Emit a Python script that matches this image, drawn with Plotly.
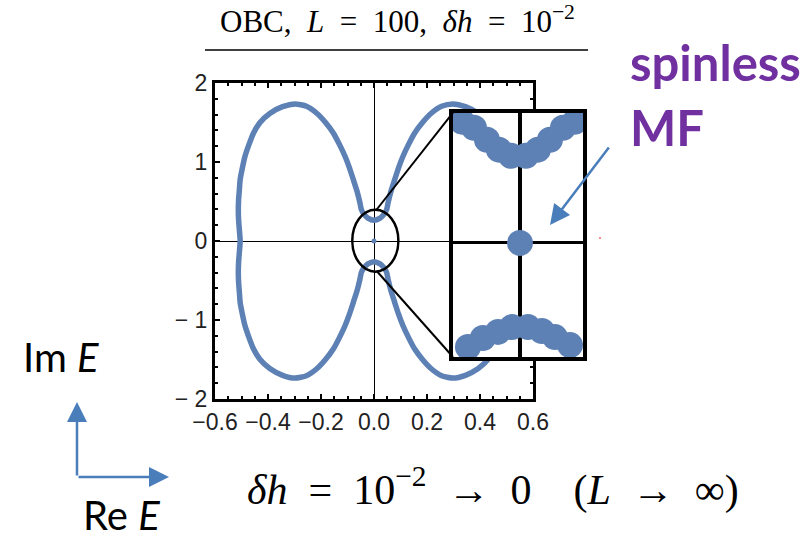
import numpy as np
import plotly.graph_objects as go

W, H = 811, 533

# Upper-left quarter of the OBC spectrum (outer edge -> waist near Re E = 0)
quarter_re = [-0.505, -0.508, -0.511, -0.512, -0.511, -0.508, -0.505, -0.497, -0.487, -0.472,
              -0.455, -0.430, -0.392, -0.345, -0.298, -0.255, -0.216, -0.183, -0.153, -0.130,
              -0.109, -0.092, -0.078, -0.064, -0.053, -0.048, -0.038, -0.023, 0.000]
quarter_im = [0.000, 0.14, 0.27, 0.40, 0.52, 0.65, 0.78, 0.92, 1.07, 1.22,
              1.365, 1.50, 1.617, 1.700, 1.735, 1.705, 1.617, 1.50, 1.365, 1.22,
              1.07, 0.92, 0.776, 0.63, 0.482, 0.40, 0.34, 0.29, 0.262]

# Isolated zero mode (spinless Majorana fermion)
mf_re = [0.0]
mf_im = [0.0]

# Eigenvalues shown in the magnified inset
inset_top_re = [-0.0446, -0.0354, -0.0254, -0.0162, -0.0069, 0.0046, 0.0138, 0.0231, 0.0331, 0.0423]
inset_top_im = [0.377, 0.358, 0.321, 0.290, 0.271, 0.271, 0.290, 0.321, 0.358, 0.377]
inset_bot_re = [-0.0400, -0.0285, -0.0169, -0.0062, 0.0062, 0.0169, 0.0269, 0.0385]
inset_bot_im = [-0.324, -0.296, -0.277, -0.262, -0.262, -0.274, -0.293, -0.318]

x_ticks = [-0.6, -0.4, -0.2, 0.0, 0.2, 0.4, 0.6]
y_ticks = [-2, -1, 0, 1, 2]
y_ticktext = ["\u2212 2", "\u2212 1", "0", "1", "2"]

BLUE = "#5E81B5"
ARROW = "#4A7EBB"
PURPLE = "#7030A0"

# Close the curve using the reflection symmetry E -> -E*, E -> E*
q_re = np.array(quarter_re)
q_im = np.array(quarter_im)
curve_re = np.concatenate([q_re, -q_re[::-1][1:], -q_re[1:], q_re[::-1][1:]])
curve_im = np.concatenate([q_im, q_im[::-1][1:], -q_im[1:], -q_im[::-1][1:]])

# layout geometry (pixels)
ML, MR, MT, MB = 215, 228, 83, 134
PW, PH = W - ML - MR, H - MT - MB


def px(xp):
    return (xp - ML) / PW


def py(yp):
    return (H - MB - yp) / PH


fig = go.Figure()

fig.add_trace(go.Scatter(x=curve_re, y=curve_im, mode="lines",
                         line=dict(color=BLUE, width=5.5, shape="spline", smoothing=0.6),
                         hoverinfo="skip", xaxis="x", yaxis="y"))
fig.add_trace(go.Scatter(x=mf_re, y=mf_im, mode="markers",
                         marker=dict(color=BLUE, size=5), xaxis="x", yaxis="y"))

# inset
for xs, ys in [(inset_top_re, inset_top_im), (inset_bot_re, inset_bot_im), (mf_re, mf_im)]:
    fig.add_trace(go.Scatter(x=xs, y=ys, mode="markers",
                             marker=dict(color=BLUE, size=26, line=dict(width=0)),
                             xaxis="x2", yaxis="y2"))

tickfont = dict(family="Liberation Sans, Arial", size=23, color="#222")

fig.update_layout(
    width=W, height=H,
    margin=dict(l=ML, r=MR, t=MT, b=MB),
    paper_bgcolor="white", plot_bgcolor="white",
    showlegend=False,
    xaxis=dict(domain=[0, (533 - ML) / PW], range=[-0.6, 0.6],
               tickmode="array", tickvals=x_ticks, tickformat=".1f",
               ticks="inside", ticklen=5, tickwidth=2, tickcolor="black",
               minor=dict(dtick=0.05, tick0=0, ticks="inside", ticklen=3, tickwidth=1.5, tickcolor="black"),
               showline=True, linewidth=3, linecolor="black", mirror="allticks",
               zeroline=True, zerolinecolor="black", zerolinewidth=1,
               showgrid=False, tickfont=tickfont),
    yaxis=dict(domain=[0, 1], range=[-2, 2],
               tickmode="array", tickvals=y_ticks, ticktext=y_ticktext,
               ticks="inside", ticklen=5, tickwidth=2, tickcolor="black",
               minor=dict(dtick=0.2, tick0=0, ticks="inside", ticklen=3, tickwidth=1.5, tickcolor="black"),
               showline=True, linewidth=3, linecolor="black", mirror="allticks",
               zeroline=True, zerolinecolor="black", zerolinewidth=1,
               showgrid=False, tickfont=tickfont),
    xaxis2=dict(domain=[px(453), px(583)], range=[-0.0515, 0.0485], anchor="y2",
                showticklabels=False, ticks="", showgrid=False,
                showline=True, linewidth=4, linecolor="black", mirror=True,
                zeroline=True, zerolinecolor="black", zerolinewidth=3.5),
    yaxis2=dict(domain=[py(357), py(112.7)], range=[-0.355, 0.405], anchor="x2",
                showticklabels=False, ticks="", showgrid=False,
                showline=True, linewidth=4, linecolor="black", mirror=True,
                zeroline=True, zerolinecolor="black", zerolinewidth=3),
)

shapes = [
    # magnified region around the origin
    dict(type="circle", xref="x", yref="y", x0=-0.082, x1=0.092, y0=-0.388, y1=0.395,
         line=dict(color="black", width=2.5), layer="above"),
    dict(type="line", xref="paper", yref="paper", x0=px(376.7), y0=py(209.5), x1=px(453), y1=py(112.7),
         line=dict(color="black", width=2)),
    dict(type="line", xref="paper", yref="paper", x0=px(376.7), y0=py(271), x1=px(453), y1=py(357),
         line=dict(color="black", width=2)),
    # title underline
    dict(type="line", xref="paper", yref="paper", x0=px(205), y0=py(50), x1=px(588), y1=py(50),
         line=dict(color="black", width=1.5)),
    dict(type="circle", xref="paper", yref="paper", x0=px(599), x1=px(601), y0=py(239), y1=py(237),
         line=dict(width=0), fillcolor="#f06070"),
]
fig.update_layout(shapes=shapes)

serif = "Liberation Serif, Times New Roman, serif"
sans = "Lato, Open Sans, sans-serif"
SP = "\u2002"   # wide math spacing

ann = [
    dict(text=f"OBC,{SP}<i>L</i>{SP}={SP}100,{SP}<i>\u03b4h</i>{SP}={SP}10<sup>\u22122</sup>",
         x=px(397), y=py(19), font=dict(family=serif, size=31, color="black")),
    dict(text=f"<i>\u03b4h</i>{SP}={SP}10<sup>\u22122</sup>{SP}\u2192{SP}0{SP}{SP}(<i>L</i>{SP}\u2192{SP}\u221e)",
         x=px(493), y=py(487), font=dict(family=serif, size=42, color="black")),
    dict(text="<b>spinless</b>", x=px(628), y=py(62), xanchor="left",
         font=dict(family=sans, size=49, color=PURPLE)),
    dict(text="<b>MF</b>", x=px(628), y=py(127), xanchor="left",
         font=dict(family=sans, size=49, color=PURPLE)),
    dict(text="Im <i>E</i>", x=px(21), y=py(357), xanchor="left",
         font=dict(family=sans, size=40, color="black")),
    dict(text="Re <i>E</i>", x=px(81), y=py(515), xanchor="left",
         font=dict(family=sans, size=40, color="black")),
]
for a in ann:
    a.setdefault("xanchor", "center")
    a.update(xref="paper", yref="paper", yanchor="middle", showarrow=False)

arrows = [
    dict(x=px(550), y=py(225), ax=60, ay=-79),
    dict(x=px(77), y=py(402), ax=0, ay=75),
    dict(x=px(169), y=py(477), ax=-92, ay=0),
]
for a in arrows:
    a.update(xref="paper", yref="paper", text="", showarrow=True,
             arrowhead=2, arrowsize=1.6, arrowwidth=2.5, arrowcolor=ARROW, standoff=0)

fig.update_layout(annotations=ann + arrows)

fig.write_html("out.html")
